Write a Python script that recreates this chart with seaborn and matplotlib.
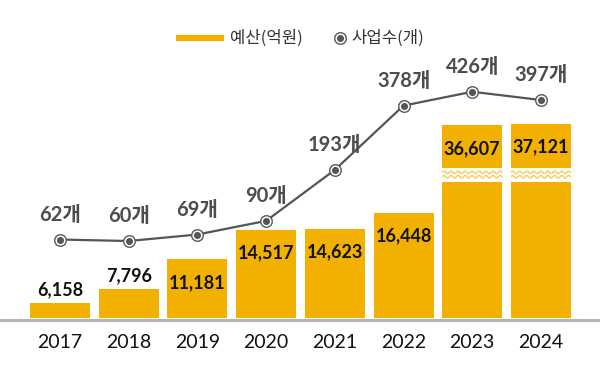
import numpy as np
import pandas as pd
import matplotlib
matplotlib.use("Agg")
import matplotlib.pyplot as plt
from matplotlib.lines import Line2D
import seaborn as sns

# ---------------- data ----------------
years = ['2017', '2018', '2019', '2020', '2021', '2022', '2023', '2024']
budget = [6158, 7796, 11181, 14517, 14623, 16448, 36607, 37121]   # 예산(억원)
counts = [62, 60, 69, 90, 193, 378, 426, 397]                     # 사업수(개)
legend_labels = ['예산(억원)', '사업수(개)']

# ---------------- style ----------------
sns.set_style('white')
plt.rcParams['font.family'] = ['Lato', 'Noto Sans CJK KR', 'DejaVu Sans']

ORANGE = '#F2B100'
WAVE = '#F6CC55'
GRAY = '#555555'
LABEL_GRAY = '#4D4D4D'

# broken (compressed) bar axis above BREAK
BREAK = 20000.0
SQUEEZE = 0.39
PX_PER_UNIT = 0.00875   # display px per (transformed) budget unit


def fwd(v):
    v = np.asarray(v, dtype=float)
    return np.where(v <= BREAK, v, BREAK + (v - BREAK) * SQUEEZE)


def inv(u):
    u = np.asarray(u, dtype=float)
    return np.where(u <= BREAK, u, BREAK + (u - BREAK) / SQUEEZE)


df = pd.DataFrame({'year': years, 'budget': budget, 'count': counts})
pos = np.arange(len(years))

fig = plt.figure(figsize=(6, 3.8), dpi=100)
ax = fig.add_axes([0, 62 / 380, 1, 318 / 380])

BAR_W = 60 / 68.7
sns.barplot(data=df, x='year', y='budget', color=ORANGE, saturation=1,
            width=BAR_W, linewidth=0, errorbar=None, ax=ax, zorder=2)
ax.set_yscale('function', functions=(fwd, inv))
ax.set_ylim(4460, 73340)
ax.set_xlim(-0.873, 7.859)
ax.set_yticks([])
ax.set_xlabel('')
ax.set_ylabel('')
for s in ['top', 'left', 'right']:
    ax.spines[s].set_visible(False)
ax.spines['bottom'].set_color('#B5B5B5')
ax.spines['bottom'].set_linewidth(2.2)
ax.spines['bottom'].set_position(('outward', 1.3))
ax.tick_params(axis='x', length=0, pad=10, labelsize=14, labelcolor='#111111')

# break marks on tall bars
band_lo = BREAK
band_hi = BREAK + 14 / PX_PER_UNIT
for i, v in enumerate(budget):
    if v > BREAK:
        x0, x1 = i - BAR_W / 2 - 0.01, i + BAR_W / 2 + 0.01
        ax.fill_between([x0, x1], inv(band_lo), inv(band_hi), color='white',
                        lw=0, zorder=3)
        xs = np.linspace(i - BAR_W / 2, i + BAR_W / 2, 300)
        for off in (5.3, 9.7):
            px = off + 1.3 * np.sin(2 * np.pi * (xs - xs[0]) * 68.7 / 7.0)
            ax.plot(xs, inv(BREAK + px / PX_PER_UNIT), color=WAVE, lw=1.0,
                    zorder=4, solid_capstyle='butt')

# bar value labels
for i, v in enumerate(budget):
    if v >= 10000:
        ax.annotate(f'{v:,}', xy=(i, v), xytext=(0, -10.5),
                    textcoords='offset points', ha='center', va='top',
                    fontsize=13, fontweight='bold', color='#111111', zorder=5)
    else:
        ax.annotate(f'{v:,}', xy=(i, v), xytext=(0, 3.5),
                    textcoords='offset points', ha='center', va='bottom',
                    fontsize=13, fontweight='bold', color='#111111', zorder=5)

# line on twin axis
ax2 = ax.twinx()
sns.lineplot(x=pos, y=counts, ax=ax2, color=GRAY, lw=1.6, marker='o',
             markersize=8.8, markerfacecolor=GRAY, markeredgecolor=GRAY,
             markeredgewidth=0.5, zorder=5)
ax2.plot(pos, counts, ls='none', marker='o', ms=6.2, mfc=GRAY, mec='white',
         mew=1.1, zorder=6)
ax2.set_yscale('function', functions=(lambda y: np.sqrt(np.clip(y, 0, None)),
                                      np.square))
ax2.set_ylim(1.2, 816)
ax2.set_xlim(-0.873, 7.859)
ax2.set_yticks([])
ax2.set_ylabel('')
ax2.set_xlabel('')
for s in ax2.spines.values():
    s.set_visible(False)

for i, c in enumerate(counts):
    ax2.annotate(f'{c}개', xy=(i, c), xytext=(0, 10.5),
                 textcoords='offset points', ha='center', va='bottom',
                 fontsize=14.5, fontweight='bold', color=LABEL_GRAY, zorder=7)

# legend (drawn at figure level)
ly = 1 - 38 / 380
fig.add_artist(Line2D([176 / 600, 224 / 600], [ly, ly], color=ORANGE, lw=4.5,
                      solid_capstyle='butt', transform=fig.transFigure))
fig.text(230 / 600, ly, legend_labels[0], ha='left', va='center', fontsize=12,
         color='#333333', family=['Noto Sans CJK KR', 'DejaVu Sans'])
fig.add_artist(Line2D([340 / 600], [ly], ls='none', marker='o', ms=8.8,
                      mfc=GRAY, mec=GRAY, mew=0.5, transform=fig.transFigure))
fig.add_artist(Line2D([340 / 600], [ly], ls='none', marker='o', ms=6.2,
                      mfc=GRAY, mec='white', mew=1.1, transform=fig.transFigure))
fig.text(351 / 600, ly, legend_labels[1], ha='left', va='center', fontsize=12,
         color='#333333', family=['Noto Sans CJK KR', 'DejaVu Sans'])

fig.savefig('out.png', dpi=100)
